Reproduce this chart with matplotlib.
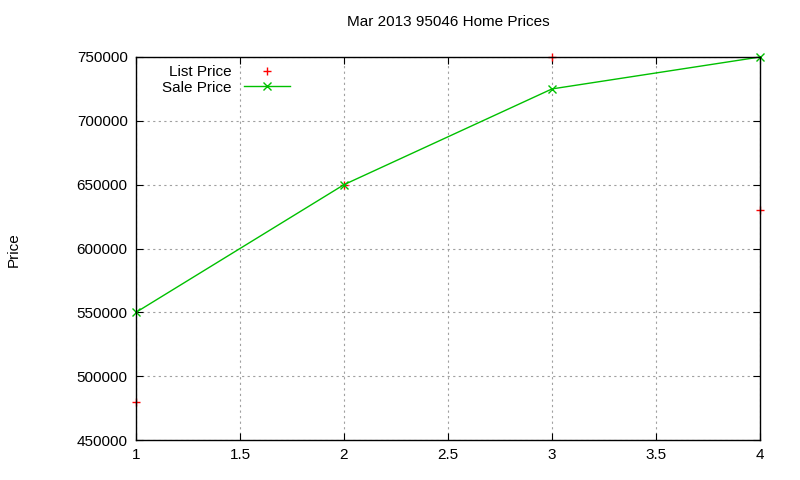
import matplotlib.pyplot as plt

plt.rcParams['font.family'] = ['Liberation Sans', 'DejaVu Sans']

x = [1, 2, 3, 4]
list_price = [480000, 650000, 750000, 630000]
sale_price = [550000, 650000, 725000, 750000]
xticks = [1, 1.5, 2, 2.5, 3, 3.5, 4]
yticks = [450000, 500000, 550000, 600000, 650000, 700000, 750000]

fig = plt.figure(figsize=(8, 4.8), dpi=100)
ax = fig.add_axes([136 / 800, 40 / 480, 624 / 800, 383 / 480])

ax.plot(x, list_price, '+', color='#ff0000', markersize=6, ls='none', label='List Price', clip_on=False)
ax.plot(x, sale_price, '-x', color='#00c000', markersize=6, lw=1, label='Sale Price', clip_on=False)

ax.set_xlim(1, 4)
ax.set_ylim(450000, 750000)
ax.set_xticks(xticks)
ax.set_xticklabels(['1', '1.5', '2', '2.5', '3', '3.5', '4'])
ax.set_yticks(yticks)
ax.set_yticklabels([str(v) for v in yticks])
ax.tick_params(direction='in', length=5, labelsize=11, top=True, right=True, pad=6)
ax.grid(True, color='#a0a0a0', linestyle=(0, (2, 3)), lw=0.8)
for s in ax.spines.values():
    s.set_linewidth(1)

ax.set_title('Mar 2013 95046 Home Prices', fontsize=11, pad=22)
fig.text(14 / 800, 1 - 250 / 480, 'Price', rotation=90, fontsize=11, ha='center', va='center')

leg = ax.legend(loc='upper left', bbox_to_anchor=(0.02, 1.015), frameon=False,
                markerfirst=False, fontsize=11, handlelength=3, labelspacing=0.1)
for t in leg.get_texts():
    t.set_ha('right')

fig.savefig('out.png', dpi=100)
